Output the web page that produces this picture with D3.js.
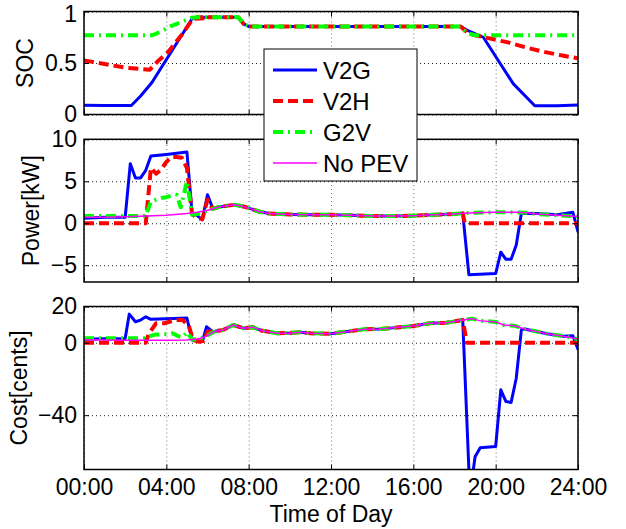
<!DOCTYPE html>
<html>
<head>
<meta charset="utf-8">
<script src="https://cdn.jsdelivr.net/npm/d3@7"></script>
<style>
html,body{margin:0;padding:0;background:#fff;}
svg{display:block;font-family:"Liberation Sans",Arial,Helvetica,sans-serif;}
</style>
</head>
<body>
<svg id="chart" width="626" height="529"></svg>
<script>
// ---------- DATA (hours of day, value) ----------
const seriesNames = ["V2G", "V2H", "G2V", "No PEV"];
const xTickHours = [0, 4, 8, 12, 16, 20, 24];
const xTickLabels = ["00:00", "04:00", "08:00", "12:00", "16:00", "20:00", "24:00"];

// SOC panel
const socTicks = [0, 0.5, 1];
const socCommon = [[5.5,0.945],[6.5,0.945],[7.5,0.945],[7.75,0.88],[8.0,0.855],[12,0.855],[18.3,0.855]];
const socV2G = [[0,0.09],[1,0.088],[2.3,0.088],[2.75,0.18],[3.3,0.31],[5.25,0.93]].concat(socCommon,
  [[18.6,0.82],[19.4,0.75],[20.85,0.3],[21.9,0.085],[23,0.085],[24,0.092]]);
const socV2H = [[0,0.525],[1,0.49],[2,0.455],[3.2,0.435],[3.6,0.52],[4.1,0.61],[4.75,0.775],[5.3,0.93],[5.9,0.935]].concat(socCommon,
  [[18.6,0.8],[18.9,0.775],[19.9,0.73],[20.7,0.695],[21.5,0.65],[22.3,0.61],[23.3,0.57],[24,0.545]]);
const socG2V = [[0,0.77],[3.3,0.77],[3.4,0.775],[3.8,0.81],[4.2,0.856],[4.76,0.9],[5.25,0.94]].concat(socCommon,
  [[18.6,0.79],[19.0,0.77],[24,0.77]]);

// Power panel (kW)
const powerTicks = [-5, 0, 5, 10];
const powerCommon = [[6.5,1.9],[7.0,2.1],[7.3,2.2],[7.75,2.0],[8.0,1.8],[8.5,1.4],[9.0,1.15],[10,1.05],[11,1.0],[12,1.0],[13,0.95],[14,0.85],[15,0.85],[16,0.9],[17,1.0],[18,1.1],[18.4,1.2]];
const powerEvening = [[19,1.25],[20,1.3],[21,1.3],[21.5,1.25],[22,1.1],[23,0.95],[24,0.8]];
const powerV2G = [[0,0.6],[1,0.7],[2,0.7],[2.25,7.1],[2.5,5.4],[2.75,5.4],[3.0,6.3],[3.25,8.0],[4,8.2],[5.0,8.5],[5.25,1.2],[5.5,0.9],[5.75,0.4],[6.0,3.4],[6.25,1.8]].concat(powerCommon,
  [[18.7,-6.15],[20.0,-6.0],[20.25,-3.45],[20.5,-4.3],[20.75,-4.3],[21.0,-2.6],[21.25,1.2],[22,1.15],[23,1.0],[23.75,1.3],[24,-1.0]]);
const powerV2H = [[0,0],[3.0,0],[3.25,6.6],[3.5,5.9],[3.75,6.4],[4.0,7.3],[4.25,7.9],[4.5,7.9],[4.75,7.8],[5.0,6.6],[5.25,1.1],[5.5,0.6],[5.75,0.5],[6.0,2.8],[6.25,1.7]].concat(powerCommon,
  [[18.5,0],[24,0]]);
const powerG2V = [[0,0.85],[1,0.85],[2,0.85],[3.0,0.85],[3.25,2.6],[3.5,2.8],[3.75,3.0],[4.0,3.1],[4.25,3.3],[4.5,3.4],[4.7,1.9],[5.0,5.0],[5.25,1.0],[5.5,1.1],[5.75,1.3],[6.0,1.5],[6.25,1.7]].concat(powerCommon, powerEvening);
const powerNoPEV = [[0,0.7],[1,0.72],[2,0.78],[3,0.85],[4,0.95],[5,1.15],[5.5,1.3],[6,1.55],[6.25,1.7]].concat(powerCommon, powerEvening);

// Cost panel (cents)
const costTicks = [-40, 0, 20];
const costCommon = [[6.75,7.0],[7.25,9.8],[7.75,8.0],[8.2,8.6],[8.6,6.8],[9.4,5.2],[10,5.4],[10.5,5.8],[11,5.2],[12,5.0],[12.8,6.2],[13.6,7.4],[14.4,7.6],[15,8.2],[16,9.2],[16.8,10.8],[17.6,11.0],[18.4,12.5]];
const costEvening = [[18.85,13.3],[19.2,12.2],[20,11.5],[20.4,9.8],[20.9,9.4],[21.4,7.6],[22.5,5.0],[23.3,3.6],[24,2.0]];
const costV2G = [[0,1.9],[1,2.2],[2,2.3],[2.2,15.8],[2.5,11.6],[2.75,12.5],[3.0,14.3],[3.25,12.9],[4,13.2],[5.0,13.6],[5.25,1.5],[5.5,1.1],[5.75,0.6],[5.95,8.8],[6.25,6.1]].concat(costCommon,
  [[18.75,-84],[19.0,-63],[19.25,-58],[20.0,-57.3],[20.25,-26],[20.5,-32.5],[20.75,-33],[21.0,-19.6],[21.25,7.2],[21.4,7.6],[22.5,5.0],[23.3,3.6],[23.75,3.8],[24,-3.6]]);
const costV2H = [[0,0],[3.0,0],[3.15,5],[3.5,10.7],[3.9,10.7],[4.4,12.5],[4.8,12.5],[5.1,9.0],[5.3,1.5],[5.6,0.5],[5.8,1.0],[6.0,6.0],[6.25,6.3]].concat(costCommon,
  [[18.6,0],[24,0]]);
const costG2V = [[0,2.5],[3.0,2.5],[3.25,3.8],[3.5,4.6],[3.9,4.6],[4.3,5.2],[4.6,3.5],[4.8,3.0],[5.0,5.8],[5.25,1.8],[5.5,1.8],[5.75,2.7],[6.0,4.0],[6.3,6.0]].concat(costCommon, costEvening);
const costNoPEV = [[0,1.7],[2,1.4],[4,1.4],[5,1.5],[5.5,2.0],[5.75,2.7],[6.0,4.0],[6.3,6.0]].concat(costCommon, costEvening);

// ---------- STYLE ----------
const styles = [
  {color:"#0000ff", width:3, dash:null},
  {color:"#ff0000", width:4, dash:"10,5"},
  {color:"#00ff00", width:4, dash:"10,5,2,5"},
  {color:"#ff00ff", width:1.5, dash:null}
];

const svg = d3.select("#chart");
const left = 84, right = 578;
const x = d3.scaleLinear().domain([0, 24]).range([left, right]);
const FS = 23;

const panels = [
  {top:11.5, bottom:114.5, domain:[0,1], ticks:socTicks, fmt:d=>d===0.5?"0.5":String(d), label:"SOC", labelX:25,
   data:[socV2G, socV2H, socG2V, null]},
  {top:139.3, bottom:282, domain:[-7,10], ticks:powerTicks, fmt:d=>d<0?"\u2212"+Math.abs(d):String(d), label:"Power[kW]", labelX:31,
   data:[powerV2G, powerV2H, powerG2V, powerNoPEV]},
  {top:306.5, bottom:469.5, domain:[-70,20], ticks:costTicks, fmt:d=>d<0?"\u2212"+Math.abs(d):String(d), label:"Cost[cents]", labelX:19,
   data:[costV2G, costV2H, costG2V, costNoPEV]}
];

panels.forEach((p, i) => {
  const y = d3.scaleLinear().domain(p.domain).range([p.bottom, p.top]);
  const g = svg.append("g");
  const h = p.bottom - p.top, w = right - left;

  // grid
  const gridY = g.append("g").attr("transform", `translate(${left},0)`)
    .call(d3.axisLeft(y).tickValues(p.ticks).tickSize(-w).tickFormat(""));
  const gridX = g.append("g").attr("transform", `translate(0,${p.bottom})`)
    .call(d3.axisBottom(x).tickValues(xTickHours).tickSize(-h).tickFormat(""));
  gridY.selectAll("line").attr("stroke", "#222");
  gridX.selectAll("line").attr("stroke", "#777");
  [gridY, gridX].forEach(a => {
    a.select(".domain").remove();
    a.selectAll("line").attr("stroke-width", 1).attr("stroke-dasharray", "1,3");
  });

  // clip
  const cid = "clip" + i;
  svg.append("defs").append("clipPath").attr("id", cid)
    .append("rect").attr("x", left).attr("y", p.top).attr("width", w).attr("height", h);

  const line = d3.line().x(d => x(d[0])).y(d => y(d[1]));
  const lg = g.append("g").attr("clip-path", `url(#${cid})`);
  p.data.forEach((s, k) => {
    if (!s) return;
    const st = styles[k];
    lg.append("path").datum(s).attr("d", line)
      .attr("fill", "none").attr("stroke", st.color).attr("stroke-width", st.width)
      .attr("stroke-linejoin", "round").attr("stroke-linecap", st.dash ? "butt" : "round")
      .attr("stroke-dasharray", st.dash);
  });

  // ticks (inward, all four sides)
  const axL = g.append("g").attr("transform", `translate(${left},0)`)
    .call(d3.axisLeft(y).tickValues(p.ticks).tickSizeInner(-5).tickSizeOuter(0).tickPadding(7).tickFormat(p.fmt));
  const axR = g.append("g").attr("transform", `translate(${right},0)`)
    .call(d3.axisRight(y).tickValues(p.ticks).tickSizeInner(-5).tickSizeOuter(0).tickFormat(""));
  const axT = g.append("g").attr("transform", `translate(0,${p.top})`)
    .call(d3.axisTop(x).tickValues(xTickHours).tickSizeInner(-5).tickSizeOuter(0).tickFormat(""));
  const axB = g.append("g").attr("transform", `translate(0,${p.bottom})`)
    .call(d3.axisBottom(x).tickValues(xTickHours).tickSizeInner(-5).tickSizeOuter(0).tickPadding(9)
      .tickFormat(i === 2 ? (d, j) => xTickLabels[j] : ""));
  [axL, axR, axT, axB].forEach(a => {
    a.select(".domain").remove();
    a.selectAll("line").attr("stroke", "#000").attr("stroke-width", 1);
    a.selectAll("text").attr("font-size", FS).attr("fill", "#000")
      .attr("font-family", "'Liberation Sans',Arial,sans-serif");
  });
  // keep the topmost tick label inside the page
  if (i === 0) axL.selectAll("text").filter(d => d === 1).attr("dy", "0.42em");

  // box
  g.append("rect").attr("x", left).attr("y", p.top).attr("width", w).attr("height", h)
    .attr("fill", "none").attr("stroke", "#000").attr("stroke-width", 1.5);

  // y label
  g.append("text").attr("transform", `translate(${p.labelX},${(p.top + p.bottom) / 2}) rotate(-90)`)
    .attr("text-anchor", "middle").attr("dominant-baseline", "central")
    .attr("font-size", FS).text(p.label);
});

// x label
svg.append("text").attr("x", (left + right) / 2).attr("y", 522)
  .attr("text-anchor", "middle").attr("font-size", FS).text("Time of Day");

// legend
const leg = svg.append("g");
leg.append("rect").attr("x", 264).attr("y", 49).attr("width", 153).attr("height", 132)
  .attr("fill", "#fff").attr("stroke", "#000").attr("stroke-width", 1);
seriesNames.forEach((n, k) => {
  const cy = 70 + k * 31;
  const st = styles[k];
  leg.append("line").attr("x1", 273).attr("x2", 317).attr("y1", cy).attr("y2", cy)
    .attr("stroke", st.color).attr("stroke-width", st.width).attr("stroke-dasharray", st.dash);
  leg.append("text").attr("x", 323).attr("y", cy).attr("dominant-baseline", "central")
    .attr("font-size", 24).text(n);
});
</script>
</body>
</html>
